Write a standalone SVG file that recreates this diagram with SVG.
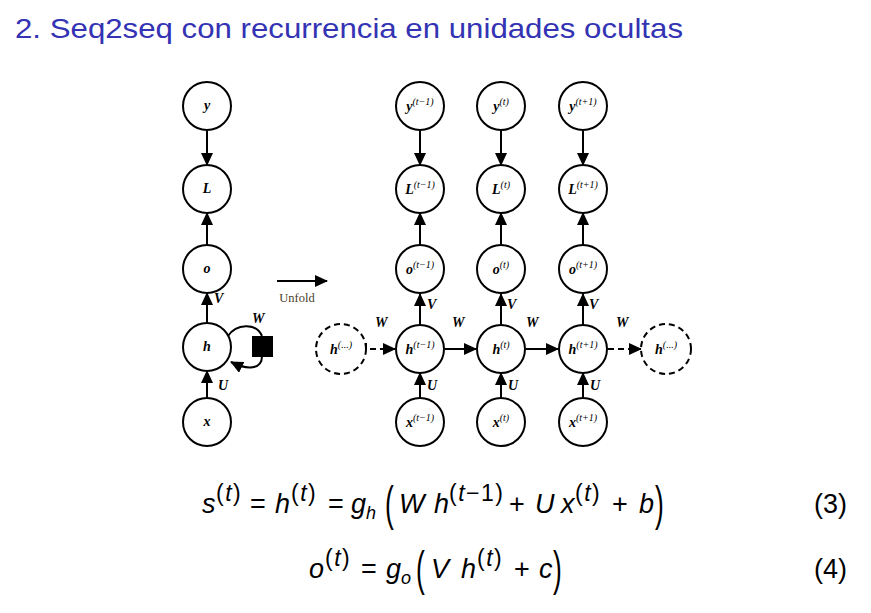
<svg xmlns="http://www.w3.org/2000/svg" width="871" height="613" viewBox="0 0 871 613">
<defs>
<marker id="ah" markerWidth="13" markerHeight="12" refX="12" refY="6" orient="auto" markerUnits="userSpaceOnUse">
<path d="M0,0 L13,6 L0,12 Z" fill="#000"/>
</marker>
<style>
.n{fill:#fff;stroke:#000;stroke-width:2}
.d{fill:#fff;stroke:#000;stroke-width:2;stroke-dasharray:6,4}
.c{fill:none;stroke:#000;stroke-width:2}
.cd{fill:none;stroke:#000;stroke-width:2;stroke-dasharray:6,4}
.t{font-family:"Liberation Serif",serif;font-weight:bold;font-style:italic;font-size:14px;fill:#000;text-anchor:middle}
.s{font-size:10px;font-weight:normal}
.w{font-family:"Liberation Serif",serif;font-weight:bold;font-style:italic;font-size:14px;fill:#000}
.e{font-family:"Liberation Sans","DejaVu Sans",sans-serif;font-size:27px;fill:#000}
.i{font-style:italic}
.p{font-family:"Liberation Sans",sans-serif;font-size:23px;letter-spacing:1.5px}
.b{font-family:"Liberation Sans",sans-serif;font-size:48px;font-weight:normal}
</style>
</defs>
<rect width="871" height="613" fill="#fff"/>
<text x="15" y="38" font-family="Liberation Sans,sans-serif" font-size="28" fill="#3333b3" textLength="668" lengthAdjust="spacingAndGlyphs">2. Seq2seq con recurrencia en unidades ocultas</text>

<g id="connectors">
<line class="c" x1="207" y1="131" x2="207" y2="165" marker-end="url(#ah)"/>
<line class="c" x1="207" y1="245" x2="207" y2="213" marker-end="url(#ah)"/>
<line class="c" x1="207" y1="323" x2="207" y2="293" marker-end="url(#ah)"/>
<line class="c" x1="207" y1="398" x2="207" y2="371" marker-end="url(#ah)"/>
<path class="c" d="M228,336 C236,324 256,322 262,336"/>
<path class="c" d="M262,356 C262,370 247,370 231,362" marker-end="url(#ah)"/>
<rect x="252" y="336" width="21" height="21" fill="#000"/>
<line class="c" x1="277" y1="281" x2="327" y2="281" marker-end="url(#ah)"/>

<line class="c" x1="420" y1="131" x2="420" y2="165" marker-end="url(#ah)"/>
<line class="c" x1="501" y1="131" x2="501" y2="165" marker-end="url(#ah)"/>
<line class="c" x1="583" y1="131" x2="583" y2="165" marker-end="url(#ah)"/>
<line class="c" x1="420" y1="245" x2="420" y2="213" marker-end="url(#ah)"/>
<line class="c" x1="501" y1="245" x2="501" y2="213" marker-end="url(#ah)"/>
<line class="c" x1="583" y1="245" x2="583" y2="213" marker-end="url(#ah)"/>
<line class="c" x1="420" y1="325" x2="420" y2="294" marker-end="url(#ah)"/>
<line class="c" x1="501" y1="325" x2="501" y2="294" marker-end="url(#ah)"/>
<line class="c" x1="583" y1="325" x2="583" y2="294" marker-end="url(#ah)"/>
<line class="c" x1="420" y1="398" x2="420" y2="373" marker-end="url(#ah)"/>
<line class="c" x1="501" y1="398" x2="501" y2="373" marker-end="url(#ah)"/>
<line class="c" x1="583" y1="398" x2="583" y2="373" marker-end="url(#ah)"/>
<path class="cd" d="M366,343 L366,349 L395,349" marker-end="url(#ah)"/>
<line class="c" x1="445" y1="349" x2="476" y2="349" marker-end="url(#ah)"/>
<line class="c" x1="526" y1="349" x2="558" y2="349" marker-end="url(#ah)"/>
<line class="cd" x1="608" y1="349" x2="641" y2="349" marker-end="url(#ah)"/>
</g>

<g id="labels">
<text class="w" x="252" y="323">W</text>
<text class="w" x="214" y="303">V</text>
<text class="w" x="218" y="390">U</text>
<text x="297" y="302" font-family="Liberation Serif,serif" font-size="12.5" fill="#4a3d28" text-anchor="middle">Unfold</text>
<text class="w" x="375" y="327">W</text>
<text class="w" x="452" y="327">W</text>
<text class="w" x="526" y="327">W</text>
<text class="w" x="616" y="327">W</text>
<text class="w" x="427" y="309">V</text>
<text class="w" x="507" y="309">V</text>
<text class="w" x="589" y="309">V</text>
<text class="w" x="427" y="390">U</text>
<text class="w" x="508" y="390">U</text>
<text class="w" x="590" y="390">U</text>
</g>

<g id="node-y"><circle class="n" cx="207" cy="106" r="24"/><text class="t" x="207" y="110">y</text></g>
<g id="node-L"><circle class="n" cx="207" cy="189" r="24"/><text class="t" x="207" y="193">L</text></g>
<g id="node-o"><circle class="n" cx="207" cy="269" r="24"/><text class="t" x="207" y="273">o</text></g>
<g id="node-h"><circle class="n" cx="207" cy="347" r="24"/><text class="t" x="207" y="351">h</text></g>
<g id="node-x"><circle class="n" cx="207" cy="422" r="24"/><text class="t" x="207" y="426">x</text></g>

<g id="node-y-tm1"><circle class="n" cx="420" cy="106" r="24"/><text class="t" x="420" y="111">y<tspan class="s" dy="-6">(t−1)</tspan></text></g>
<g id="node-y-t"><circle class="n" cx="501" cy="106" r="24"/><text class="t" x="501" y="111">y<tspan class="s" dy="-6">(t)</tspan></text></g>
<g id="node-y-tp1"><circle class="n" cx="583" cy="106" r="24"/><text class="t" x="583" y="111">y<tspan class="s" dy="-6">(t+1)</tspan></text></g>
<g id="node-L-tm1"><circle class="n" cx="420" cy="189" r="24"/><text class="t" x="420" y="194">L<tspan class="s" dy="-6">(t−1)</tspan></text></g>
<g id="node-L-t"><circle class="n" cx="501" cy="189" r="24"/><text class="t" x="501" y="194">L<tspan class="s" dy="-6">(t)</tspan></text></g>
<g id="node-L-tp1"><circle class="n" cx="583" cy="189" r="24"/><text class="t" x="583" y="194">L<tspan class="s" dy="-6">(t+1)</tspan></text></g>
<g id="node-o-tm1"><circle class="n" cx="420" cy="269" r="24"/><text class="t" x="420" y="274">o<tspan class="s" dy="-6">(t−1)</tspan></text></g>
<g id="node-o-t"><circle class="n" cx="501" cy="269" r="24"/><text class="t" x="501" y="274">o<tspan class="s" dy="-6">(t)</tspan></text></g>
<g id="node-o-tp1"><circle class="n" cx="583" cy="269" r="24"/><text class="t" x="583" y="274">o<tspan class="s" dy="-6">(t+1)</tspan></text></g>
<g id="node-h-prev"><circle class="d" cx="341" cy="349" r="25"/><text class="t" x="341" y="354">h<tspan class="s" dy="-6">(...)</tspan></text></g>
<g id="node-h-tm1"><circle class="n" cx="420" cy="349" r="24"/><text class="t" x="420" y="354">h<tspan class="s" dy="-6">(t−1)</tspan></text></g>
<g id="node-h-t"><circle class="n" cx="501" cy="349" r="24"/><text class="t" x="501" y="354">h<tspan class="s" dy="-6">(t)</tspan></text></g>
<g id="node-h-tp1"><circle class="n" cx="583" cy="349" r="24"/><text class="t" x="583" y="354">h<tspan class="s" dy="-6">(t+1)</tspan></text></g>
<g id="node-h-next"><circle class="d" cx="666" cy="349" r="25"/><text class="t" x="666" y="354">h<tspan class="s" dy="-6">(...)</tspan></text></g>
<g id="node-x-tm1"><circle class="n" cx="420" cy="422" r="24"/><text class="t" x="420" y="427">x<tspan class="s" dy="-6">(t−1)</tspan></text></g>
<g id="node-x-t"><circle class="n" cx="501" cy="422" r="24"/><text class="t" x="501" y="427">x<tspan class="s" dy="-6">(t)</tspan></text></g>
<g id="node-x-tp1"><circle class="n" cx="583" cy="422" r="24"/><text class="t" x="583" y="427">x<tspan class="s" dy="-6">(t+1)</tspan></text></g>

<g id="eq3" class="e">
<text x="202" y="513" class="i">s</text>
<text x="216" y="501" class="p">(<tspan class="i">t</tspan>)</text>
<text x="250" y="513">=</text>
<text x="275" y="513" class="i">h</text>
<text x="291" y="501" class="p">(<tspan class="i">t</tspan>)</text>
<text x="328" y="513">=</text>
<text x="351" y="513" class="i">g</text>
<text x="366" y="519" class="i" font-size="18">h</text>
<text class="b" transform="translate(385,520) scale(0.55,1)">(</text>
<text x="399" y="513" class="i">W</text>
<text x="434" y="513" class="i">h</text>
<text x="449" y="501" class="p">(<tspan class="i">t</tspan>−1)</text>
<text x="509" y="513">+</text>
<text x="535" y="513" class="i">U</text>
<text x="561" y="513" class="i">x</text>
<text x="575" y="501" class="p">(<tspan class="i">t</tspan>)</text>
<text x="612" y="513">+</text>
<text x="639" y="513" class="i">b</text>
<text class="b" transform="translate(655,520) scale(0.55,1)">)</text>
</g>
<g id="eq4" class="e">
<text x="309" y="578" class="i">o</text>
<text x="325" y="566" class="p">(<tspan class="i">t</tspan>)</text>
<text x="361" y="578">=</text>
<text x="386" y="578" class="i">g</text>
<text x="401" y="584" class="i" font-size="18">o</text>
<text class="b" transform="translate(416,585) scale(0.55,1)">(</text>
<text x="431" y="578" class="i">V</text>
<text x="461" y="578" class="i">h</text>
<text x="477" y="566" class="p">(<tspan class="i">t</tspan>)</text>
<text x="514" y="578">+</text>
<text x="539" y="578" class="i">c</text>
<text class="b" transform="translate(553,585) scale(0.55,1)">)</text>
</g>
<text x="814" y="513" class="e">(3)</text>
<text x="814" y="578" class="e">(4)</text>
</svg>
